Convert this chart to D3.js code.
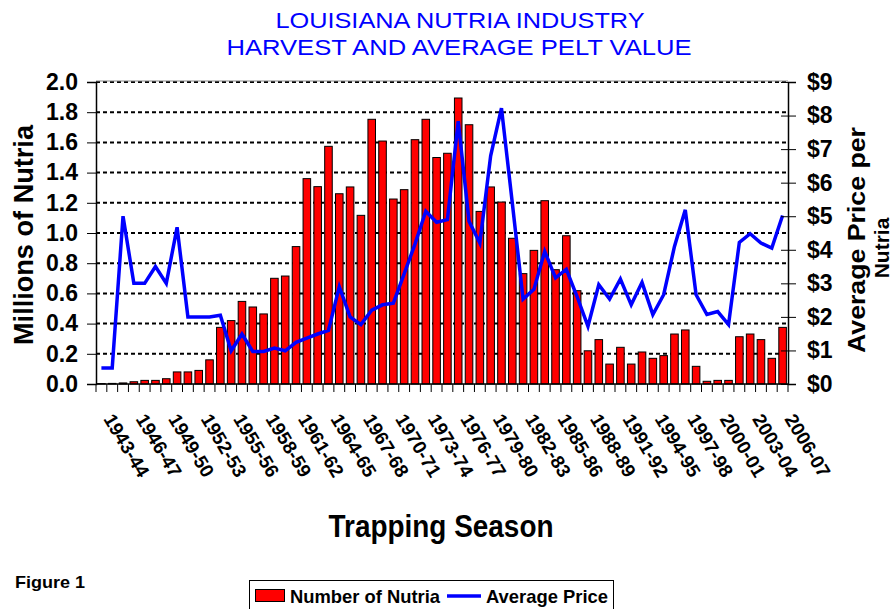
<!DOCTYPE html>
<html>
<head>
<meta charset="utf-8">
<script src="https://cdn.jsdelivr.net/npm/d3@7"></script>
<style>
	body { margin: 0; background: #fff; }
	text { font-family: 'Liberation Sans', Arial, sans-serif; }
</style>
</head>
<body>
<script>
// Data
var seasons = ['1943-44','1944-45','1945-46','1946-47','1947-48','1948-49','1949-50','1950-51',
	'1951-52','1952-53','1953-54','1954-55','1955-56','1956-57','1957-58','1958-59',
	'1959-60','1960-61','1961-62','1962-63','1963-64','1964-65','1965-66','1966-67',
	'1967-68','1968-69','1969-70','1970-71','1971-72','1972-73','1973-74','1974-75',
	'1975-76','1976-77','1977-78','1978-79','1979-80','1980-81','1981-82','1982-83',
	'1983-84','1984-85','1985-86','1986-87','1987-88','1988-89','1989-90','1990-91',
	'1991-92','1992-93','1993-94','1994-95','1995-96','1996-97','1997-98','1998-99',
	'1999-00','2000-01','2001-02','2002-03','2003-04','2004-05','2005-06','2006-07'];

// millions of nutria harvested
var nutria = [0.003, 0.004, 0.007, 0.015, 0.024, 0.024, 0.035, 0.08, 0.08, 0.09,
	0.16, 0.375, 0.42, 0.547, 0.51, 0.464, 0.70, 0.715, 0.91, 1.36,
	1.307, 1.574, 1.26, 1.305, 1.117, 1.753, 1.609, 1.225, 1.287, 1.618,
	1.753, 1.50, 1.528, 1.894, 1.717, 1.143, 1.305, 1.205, 0.965, 0.731,
	0.885, 1.214, 0.757, 0.982, 0.618, 0.22, 0.294, 0.132, 0.243, 0.132,
	0.212, 0.17, 0.188, 0.331, 0.358, 0.117, 0.018, 0.024, 0.024, 0.313,
	0.331, 0.294, 0.17, 0.375];

// average price per pelt ($)
var price = [0.48, 0.48, 5.0, 3.0, 3.0, 3.5, 3.0, 4.67, 2.0, 2.0,
	2.0, 2.05, 0.99, 1.49, 0.97, 0.97, 1.07, 0.99, 1.24, 1.37,
	1.49, 1.6, 2.9, 2.0, 1.77, 2.2, 2.36, 2.41, 3.28, 4.17,
	5.15, 4.82, 4.9, 7.83, 4.85, 4.2, 6.8, 8.22, 5.4, 2.53,
	2.82, 3.95, 3.16, 3.42, 2.6, 1.72, 2.96, 2.53, 3.13, 2.36,
	3.03, 2.07, 2.66, 4.1, 5.19, 2.66, 2.07, 2.16, 1.77, 4.22,
	4.48, 4.2, 4.05, 5.02];

var leftTicks = [0, 0.2, 0.4, 0.6, 0.8, 1.0, 1.2, 1.4, 1.6, 1.8, 2.0];
var rightTicks = [0, 1, 2, 3, 4, 5, 6, 7, 8, 9];

// Variables
var width = 894, height = 609;
var plot = { left: 96, right: 788, top: 82, bottom: 384 };
var boldFont = "'Liberation Sans', Arial, sans-serif";

var svg = d3.select('body').append('svg')
			.attr('width', width)
			.attr('height', height);

// Scaling
var xScale = d3.scaleBand()
				.domain(seasons)
				.range([plot.left, plot.right])
				.paddingInner(0.3)
				.paddingOuter(0.15);
var yScale = d3.scaleLinear()
				.domain([0, 2])
				.range([plot.bottom, plot.top]);
var y2Scale = d3.scaleLinear()
				.domain([0, 9])
				.range([plot.bottom, plot.top]);
var step = xScale.step();

// Title
svg.append('text')
		.attr('x', 460).attr('y', 28)
		.attr('text-anchor', 'middle')
		.attr('fill', '#0000ff')
		.style('font-size', '22px')
		.attr('textLength', 369).attr('lengthAdjust', 'spacingAndGlyphs')
		.text('LOUISIANA NUTRIA INDUSTRY');
svg.append('text')
		.attr('x', 459).attr('y', 55)
		.attr('text-anchor', 'middle')
		.attr('fill', '#0000ff')
		.style('font-size', '22px')
		.attr('textLength', 465).attr('lengthAdjust', 'spacingAndGlyphs')
		.text('HARVEST AND AVERAGE PELT VALUE');

// Gridlines (dotted)
svg.append('g')
		.selectAll('line')
		.data(leftTicks.slice(1))
		.enter()
	.append('line')
		.attr('x1', plot.left).attr('x2', plot.right)
		.attr('y1', function(d) { return yScale(d); })
		.attr('y2', function(d) { return yScale(d); })
		.attr('stroke', '#000')
		.attr('stroke-width', 2)
		.attr('stroke-dasharray', '4,3');

// top frame
svg.append('line')
		.attr('x1', plot.left).attr('x2', plot.right)
		.attr('y1', plot.top - 1).attr('y2', plot.top - 1)
		.attr('stroke', '#888').attr('stroke-width', 1);

// Bars
svg.append('g')
		.selectAll('rect')
		.data(nutria)
		.enter()
	.append('rect')
		.attr('x', function(d, i) { return xScale(seasons[i]); })
		.attr('y', function(d) { return yScale(d); })
		.attr('width', xScale.bandwidth())
		.attr('height', function(d) { return plot.bottom - yScale(d); })
		.attr('fill', '#ff0000')
		.attr('stroke', '#000')
		.attr('stroke-width', 1);

// Price line
var line = d3.line()
				.x(function(d, i) { return xScale(seasons[i]) + xScale.bandwidth() / 2; })
				.y(function(d) { return y2Scale(d); });
svg.append('path')
		.datum(price)
		.attr('d', line)
		.attr('fill', 'none')
		.attr('stroke', '#0000ff')
		.attr('stroke-width', 3.5);

// Axes
var yAxis = d3.axisLeft(yScale)
				.tickValues(leftTicks)
				.tickFormat(d3.format('.1f'))
				.tickSize(9)
				.tickPadding(9);
var y2Axis = d3.axisRight(y2Scale)
				.tickValues(rightTicks)
				.tickFormat(function(d) { return '$' + d; })
				.tickSize(8)
				.tickPadding(11);

svg.append('g')
		.attr('class', 'axis')
		.attr('transform', 'translate(' + plot.left + ',0)')
		.call(yAxis);
var right = svg.append('g')
		.attr('class', 'axis')
		.attr('transform', 'translate(' + plot.right + ',0)')
		.call(y2Axis);
// cross ticks on the right axis
right.selectAll('.tick line').attr('x1', -7);

svg.selectAll('.axis .domain').attr('stroke', '#000').attr('stroke-width', 1.5);
svg.selectAll('.axis .tick text')
		.attr('fill', '#000')
		.style('font-family', boldFont)
		.style('font-size', '23px')
		.style('font-weight', 'bold');

// X-axis: baseline, ticks between seasons, labels every 3rd
svg.append('line')
		.attr('x1', plot.left).attr('x2', plot.right)
		.attr('y1', plot.bottom).attr('y2', plot.bottom)
		.attr('stroke', '#000').attr('stroke-width', 1.5);
svg.append('g')
		.selectAll('line')
		.data(seasons.concat(['end']))
		.enter()
	.append('line')
		.attr('x1', function(d, i) { return plot.left + i * step; })
		.attr('x2', function(d, i) { return plot.left + i * step; })
		.attr('y1', plot.bottom).attr('y2', plot.bottom + 8)
		.attr('stroke', '#000').attr('stroke-width', 1);
svg.append('g')
		.selectAll('text')
		.data(seasons.filter(function(d, i) { return i % 3 === 0; }))
		.enter()
	.append('text')
		.attr('transform', function(d) {
			var cx = xScale(d) + xScale.bandwidth() / 2 + 1.5;
			return 'translate(' + cx + ',419) rotate(59)';
		})
		.style('font-size', '19px')
		.style('font-weight', 'bold')
		.text(function(d) { return d; });

// Axis titles
svg.append('text')
		.attr('transform', 'translate(33,235) rotate(-90)')
		.attr('text-anchor', 'middle')
		.style('font-size', '27px')
		.style('font-weight', 'bold')
		.attr('textLength', 220).attr('lengthAdjust', 'spacingAndGlyphs')
		.text('Millions of Nutria');
svg.append('text')
		.attr('transform', 'translate(865,240) rotate(-90)')
		.attr('text-anchor', 'middle')
		.style('font-size', '23px')
		.style('font-weight', 'bold')
		.attr('textLength', 226).attr('lengthAdjust', 'spacingAndGlyphs')
		.text('Average Price per');
svg.append('text')
		.attr('transform', 'translate(889,248) rotate(-90)')
		.attr('text-anchor', 'middle')
		.style('font-size', '21px')
		.style('font-weight', 'bold')
		.text('Nutria');
svg.append('text')
		.attr('x', 441).attr('y', 537)
		.attr('text-anchor', 'middle')
		.style('font-size', '31px')
		.style('font-weight', 'bold')
		.attr('textLength', 225).attr('lengthAdjust', 'spacingAndGlyphs')
		.text('Trapping Season');

// Figure label
svg.append('text')
		.attr('x', 15).attr('y', 588)
		.style('font-size', '17px')
		.style('font-weight', 'bold')
		.attr('textLength', 70).attr('lengthAdjust', 'spacingAndGlyphs')
		.text('Figure 1');

// Legend
var legend = svg.append('g');
legend.append('rect')
		.attr('x', 249.5).attr('y', 580.5)
		.attr('width', 364).attr('height', 40)
		.attr('fill', '#fff').attr('stroke', '#000');
legend.append('rect')
		.attr('x', 255.5).attr('y', 589.5)
		.attr('width', 29).attr('height', 12)
		.attr('fill', '#ff0000').attr('stroke', '#000');
legend.append('text')
		.attr('x', 290).attr('y', 603)
		.style('font-size', '19px')
		.style('font-weight', 'bold')
		.attr('textLength', 150).attr('lengthAdjust', 'spacingAndGlyphs')
		.text('Number of Nutria');
legend.append('line')
		.attr('x1', 447).attr('x2', 481)
		.attr('y1', 596).attr('y2', 596)
		.attr('stroke', '#0000ff').attr('stroke-width', 3.5);
legend.append('text')
		.attr('x', 486).attr('y', 603)
		.style('font-size', '19px')
		.style('font-weight', 'bold')
		.attr('textLength', 122).attr('lengthAdjust', 'spacingAndGlyphs')
		.text('Average Price');
</script>
</body>
</html>
